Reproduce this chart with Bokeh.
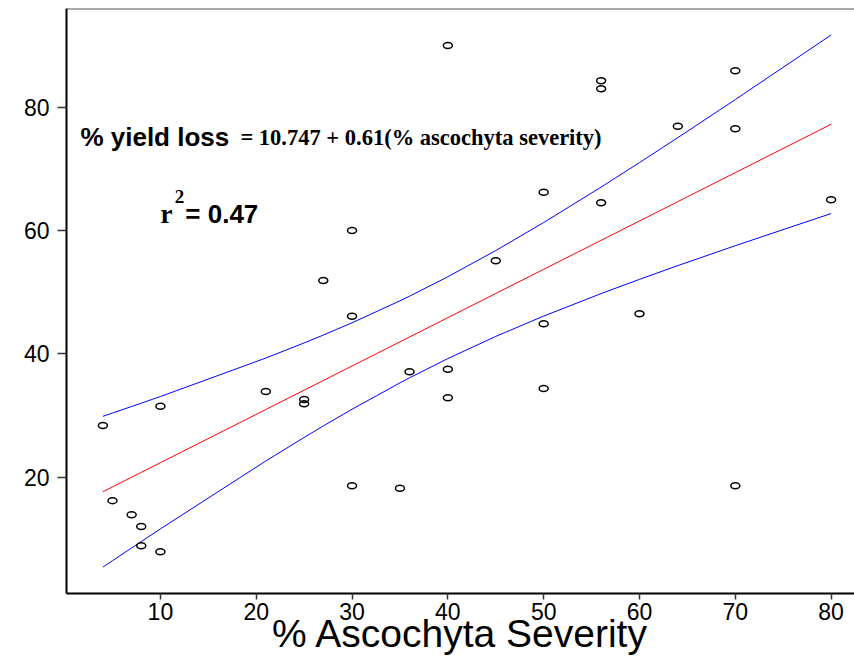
import numpy as np
from bokeh.plotting import figure
from bokeh.models import Range1d, Label, Span, FixedTicker
from bokeh.embed import file_html
from bokeh.resources import INLINE

# data
severity = [40, 56, 56, 70, 64, 70, 50, 56, 80, 30, 27, 45, 30, 50, 60, 36,
            40, 40, 50, 21, 25, 25, 10, 4, 30, 35, 70, 5, 7, 8, 8, 10]
yield_loss = [90.0, 84.3, 83.0, 85.9, 76.9, 76.5, 66.2, 64.5, 65.0, 60.0, 51.9, 55.1,
              46.1, 44.9, 46.5, 37.1, 37.5, 32.9, 34.4, 33.9, 32.6, 31.9, 31.5, 28.4,
              18.6, 18.2, 18.6, 16.2, 13.9, 12.0, 8.9, 7.9]
x_ticks = [10, 20, 30, 40, 50, 60, 70, 80]
y_ticks = [20, 40, 60, 80]

# least-squares fit and 95% confidence band for the mean
x = np.array(severity, dtype=float)
y = np.array(yield_loss, dtype=float)
slope, intercept = np.polyfit(x, y, 1)
n = len(x)
xbar = x.mean()
sxx = ((x - xbar) ** 2).sum()
resid = y - (intercept + slope * x)
s = np.sqrt((resid ** 2).sum() / (n - 2))
t_crit = 2.042
xs = np.unique(x)
yhat = intercept + slope * xs
hw = t_crit * s * np.sqrt(1.0 / n + (xs - xbar) ** 2 / sxx)

p = figure(width=854, height=658, output_backend="svg", toolbar_location=None,
           x_range=Range1d(0.2, 82.44), y_range=Range1d(1.14, 96.0),
           min_border_left=66, min_border_right=0, min_border_top=8, min_border_bottom=65)
p.xgrid.visible = False
p.ygrid.visible = False
p.outline_line_color = None
p.background_fill_color = "white"

p.add_layout(Span(location=96.0, dimension="width", line_color="#555555", line_width=2))

for ax in (p.xaxis[0], p.yaxis[0]):
    ax.axis_line_color = "black"
    ax.axis_line_width = 2
    ax.major_tick_line_color = "#333333"
    ax.major_tick_line_width = 1.5
    ax.major_tick_in = 0
    ax.minor_tick_line_color = None
    ax.major_label_text_font = "Liberation Sans"
    ax.major_label_text_font_size = "23px"
    ax.major_label_text_color = "black"

p.xaxis[0].ticker = FixedTicker(ticks=x_ticks)
p.yaxis[0].ticker = FixedTicker(ticks=y_ticks)
p.xaxis[0].major_tick_out = 6
p.yaxis[0].major_tick_out = 9
p.xaxis[0].major_label_standoff = 3
p.yaxis[0].major_label_standoff = 8
p.xaxis[0].axis_label = "% Ascochyta Severity"
p.xaxis[0].axis_label_text_font = "Liberation Sans"
p.xaxis[0].axis_label_text_font_style = "normal"
p.xaxis[0].axis_label_text_font_size = "39px"
p.xaxis[0].axis_label_text_color = "black"
p.xaxis[0].axis_label_standoff = -11

p.line(xs, yhat + hw, line_color="#0000ff", line_width=1)
p.line(xs, yhat - hw, line_color="#0000ff", line_width=1)
p.line(xs, yhat, line_color="#ff0000", line_width=1)

p.ellipse(x=severity, y=yield_loss, width=9, height=6, width_units="screen",
          height_units="screen", fill_color=None, line_color="black", line_width=1.5)

p.add_layout(Label(x=1.65, y=75.1, text="% yield loss", text_font="Liberation Sans",
                   text_font_style="bold", text_font_size="26px", text_color="black",
                   text_baseline="alphabetic"))
p.add_layout(Label(x=18.35, y=75.1, text="= 10.747 + 0.61(% ascochyta severity)",
                   text_font="Liberation Serif", text_font_style="bold",
                   text_font_size="22.5px", text_color="black", text_baseline="alphabetic"))
p.add_layout(Label(x=10.0, y=62.6, text="r", text_font="Liberation Serif",
                   text_font_style="bold", text_font_size="27px", text_color="black",
                   text_baseline="alphabetic"))
p.add_layout(Label(x=11.5, y=65.5, text="2", text_font="Liberation Serif",
                   text_font_style="bold", text_font_size="19px", text_color="black",
                   text_baseline="alphabetic"))
p.add_layout(Label(x=12.6, y=62.6, text="= 0.47", text_font="Liberation Sans",
                   text_font_style="bold", text_font_size="26px", text_color="black",
                   text_baseline="alphabetic"))

open("out.html", "w").write(file_html(p, INLINE))
